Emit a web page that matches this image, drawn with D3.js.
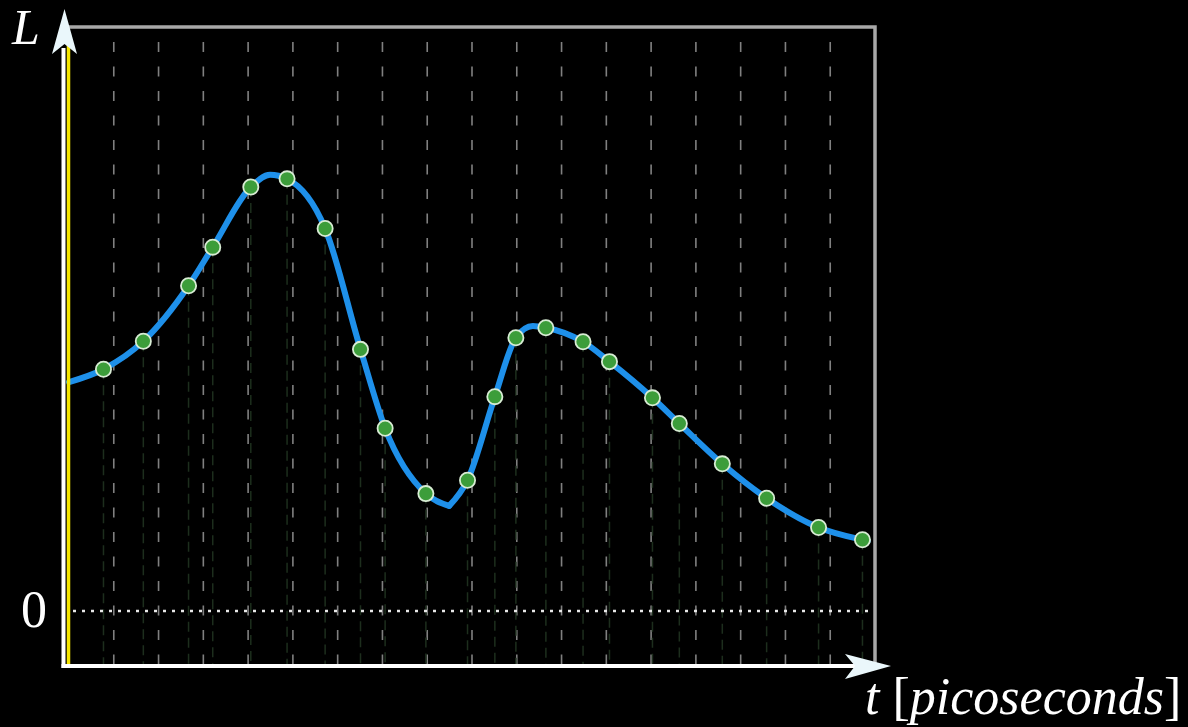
<!DOCTYPE html>
<html>
<head>
<meta charset="utf-8">
<script src="https://cdn.jsdelivr.net/npm/d3@7"></script>
<style>
  body { margin: 0; background: #000; }
  svg { display: block; }
</style>
</head>
<body>
<svg id="chart"></svg>
<script>
// sampled points (t in grid units, L in arbitrary units)
const sampleT = [0.77, 1.66, 2.67, 3.21, 4.06, 4.87, 5.72, 6.51, 7.06, 7.97, 8.90,
                 9.51, 9.98, 10.65, 11.48, 12.07, 13.03, 13.63, 14.59, 15.58, 16.74, 17.72];
const sampleL = [0.414, 0.462, 0.557, 0.623, 0.726, 0.740, 0.655, 0.448, 0.313, 0.201, 0.224,
                 0.367, 0.468, 0.485, 0.461, 0.427, 0.365, 0.321, 0.252, 0.193, 0.143, 0.122];

// extra knots of the underlying curve: start, first peak, kink, second peak, end
const knotT = [0, 4.49, 8.49, 10.36, 17.84];
const knotL = [0.392, 0.747, 0.180, 0.488, 0.120];
const kinkT = 8.49;

// vertical grid lines
const gridT = [1, 2, 3, 4, 5, 6, 7, 8, 9, 10, 11, 12, 13, 14, 15, 16, 17];

const W = 1188, H = 727;
const svg = d3.select('#chart').attr('width', W).attr('height', H);

const x = d3.scaleLinear().domain([0, 18]).range([69, 875]);
const y = d3.scaleLinear().domain([-51 / 584, 1]).range([662, 27]);

// dashed grid
svg.append('g')
  .selectAll('line')
  .data(gridT).enter()
  .append('line')
  .attr('x1', d => x(d)).attr('x2', d => x(d))
  .attr('y1', 42).attr('y2', 664)
  .attr('stroke', '#808080')
  .attr('stroke-width', 1.6)
  .attr('stroke-dasharray', '10,14.5');

const pts = sampleT.map((t, i) => ({ t: t, L: sampleL[i] }));

// dim drop lines under each point
svg.append('g')
  .selectAll('line')
  .data(pts).enter()
  .append('line')
  .attr('x1', d => x(d.t)).attr('x2', d => x(d.t))
  .attr('y1', d => y(d.L)).attr('y2', 664)
  .attr('stroke', '#1d2e1d')
  .attr('stroke-width', 1.5)
  .attr('stroke-dasharray', '10,6');

// zero line
svg.append('line')
  .attr('x1', x(0) + 4).attr('x2', x(18))
  .attr('y1', y(0)).attr('y2', y(0))
  .attr('stroke', '#e8e8e8')
  .attr('stroke-width', 2.5)
  .attr('stroke-dasharray', '3,6');

// frame
svg.append('path')
  .attr('d', `M${x(0)},${y.range()[1]} H${x(18)} V${y.range()[0] + 3}`)
  .attr('fill', 'none')
  .attr('stroke', '#a8a8a8')
  .attr('stroke-width', 3.5);

// curve, split at the kink
const knots = pts.concat(knotT.map((t, i) => ({ t: t, L: knotL[i] })))
  .sort((a, b) => a.t - b.t);
const left = knots.filter(d => d.t <= kinkT);
const right = knots.filter(d => d.t >= kinkT);

const line = d3.line()
  .x(d => x(d.t))
  .y(d => y(d.L))
  .curve(d3.curveMonotoneX);

[left, right].forEach(seg => {
  svg.append('path')
    .attr('d', line(seg))
    .attr('fill', 'none')
    .attr('stroke', '#1e90ea')
    .attr('stroke-width', 6)
    .attr('stroke-linejoin', 'round')
    .attr('stroke-linecap', 'round');
});

// points
svg.append('g')
  .selectAll('circle')
  .data(pts).enter()
  .append('circle')
  .attr('cx', d => x(d.t))
  .attr('cy', d => y(d.L))
  .attr('r', 7.6)
  .attr('fill', '#3c9d3a')
  .attr('stroke', '#d8ecd4')
  .attr('stroke-width', 1.8);

// axes
svg.append('line')
  .attr('x1', 68.5).attr('x2', 68.5)
  .attr('y1', 45).attr('y2', 664)
  .attr('stroke', '#f5e600')
  .attr('stroke-width', 3.5);

svg.append('line')
  .attr('x1', 63.5).attr('x2', 63.5)
  .attr('y1', 668).attr('y2', 48)
  .attr('stroke', '#ffffff')
  .attr('stroke-width', 4);

svg.append('line')
  .attr('x1', 61.5).attr('x2', 858)
  .attr('y1', 666).attr('y2', 666)
  .attr('stroke', '#ffffff')
  .attr('stroke-width', 4);

svg.append('path')
  .attr('d', 'M64.5,9 L77,54 L64.5,44 L52,54 Z')
  .attr('fill', '#eaf7fb');

svg.append('path')
  .attr('d', 'M891,666 L845,654 L855,666 L845,679 Z')
  .attr('fill', '#eaf7fb');

// labels
const serif = '"Liberation Serif", "DejaVu Serif", serif';

svg.append('text')
  .attr('x', 12).attr('y', 44)
  .attr('font-family', serif)
  .attr('font-style', 'italic')
  .attr('font-size', 50)
  .attr('fill', '#fff')
  .text('L');

svg.append('text')
  .attr('x', 34).attr('y', y(0) + 16)
  .attr('text-anchor', 'middle')
  .attr('font-family', serif)
  .attr('font-size', 52)
  .attr('fill', '#fff')
  .text('0');

const xl = svg.append('text')
  .attr('x', 865).attr('y', 714)
  .attr('font-family', serif)
  .attr('font-size', 52)
  .attr('fill', '#fff');
xl.append('tspan').attr('font-style', 'italic').text('t');
xl.append('tspan').text(' [');
xl.append('tspan').attr('font-style', 'italic').text('picoseconds');
xl.append('tspan').text(']');
</script>
</body>
</html>
